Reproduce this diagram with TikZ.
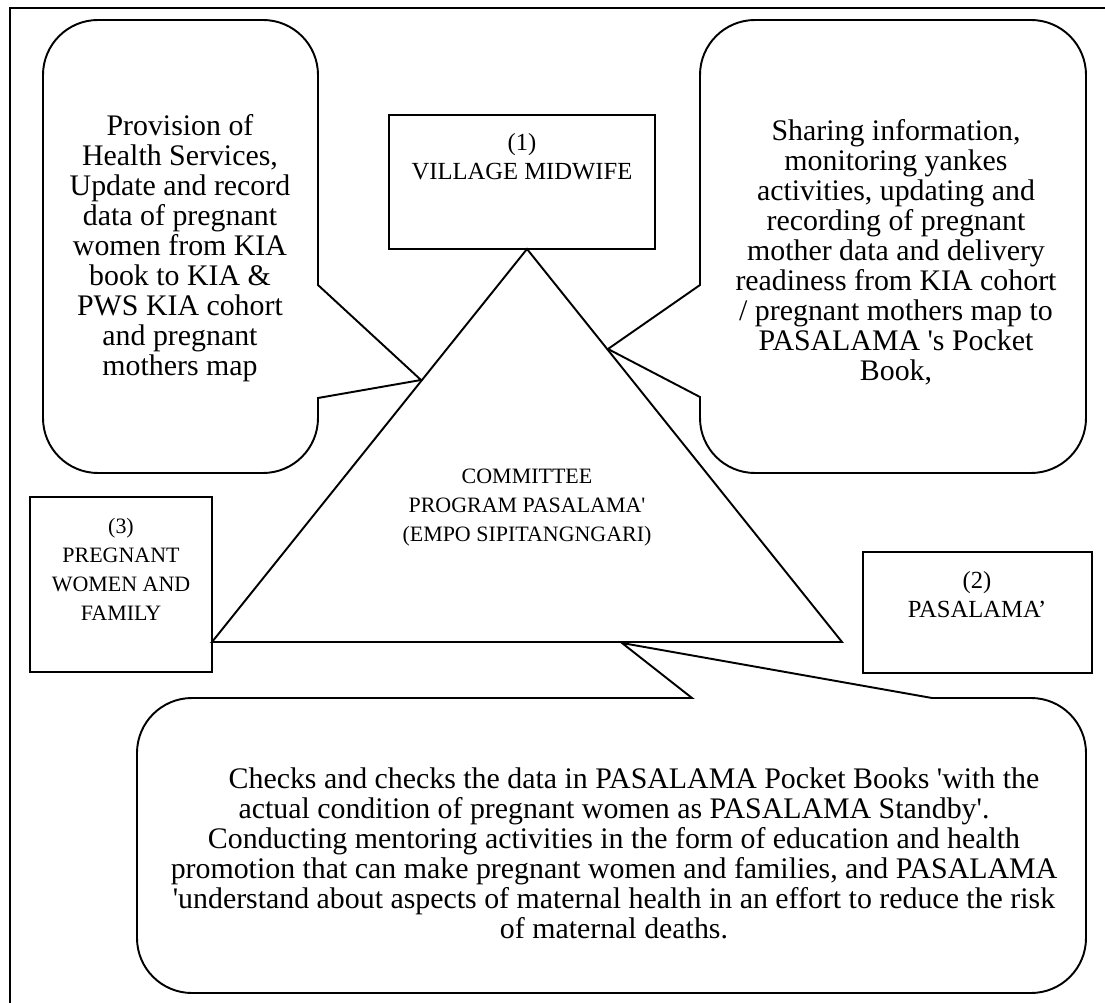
\documentclass[tikz,border=0pt]{standalone}
\usepackage{fontspec}
\setmainfont{Liberation Serif}
\usepackage{tikz}
\usetikzlibrary{calc}

\newcommand{\sqt}{\textquotesingle}

\tikzset{
  bubble/.style={draw, line width=1.1pt},
  rolebox/.style={draw, line width=0.8pt, inner sep=0pt},
  bigtext/.style={align=center, inner sep=0pt, font=\fontsize{17}{17.1}\selectfont},
  smalltext/.style={align=center, inner sep=0pt, font=\fontsize{12.5}{16.5}\selectfont},
  midtext/.style={smalltext, font=\fontsize{14}{16.5}\selectfont},
}

\begin{document}
\begin{tikzpicture}[x=0.02cm, y=-0.02cm]
  \useasboundingbox (0,0) rectangle (1105,1003);

  % cadre
  \draw[line width=1.1pt] (10,1003) -- (10,8) -- (1105,8);

  % les acteurs
  \node[rolebox, minimum width=5.32cm, minimum height=2.68cm] (midwife) at (522,182) {};
  \node[rolebox, minimum width=3.64cm, minimum height=3.5cm] (family) at (121,584.5) {};
  \node[rolebox, minimum width=4.58cm, minimum height=2.42cm] (pasalama) at (977.5,612.5) {};

  \node[midtext] (midwifetxt) at (522,157) {(1)\\VILLAGE MIDWIFE};
  \node[smalltext] (familytxt) at (121,569) {(3)\\PREGNANT\\WOMEN AND\\FAMILY};
  \node[midtext] (pasalamatxt) at (977,595) {(2)\\PASALAMA'};

  % triangle du comite
  \coordinate (apex) at (527,249);
  \coordinate (baseL) at (212,642);
  \coordinate (baseR) at (842,642);
  \draw[bubble] (apex) -- (baseR) -- (baseL) -- cycle;
  \node[smalltext] (committee) at (527,508) {COMMITTEE\\PROGRAM PASALAMA\sqt\\(EMPO SIPITANGNGARI)};

  % bulles
  \draw[bubble] (180,20) [rounded corners=1.1cm] -- (318,20)
    [sharp corners] -- (318,285) -- (421,380) -- (318,398)
    [rounded corners=1.1cm] -- (318,473) -- (43,473) -- (43,20) -- cycle;
  \draw[bubble] (893,20) [rounded corners=1.1cm] -- (1086,20) -- (1086,473) -- (700,473)
    [sharp corners] -- (700,397) -- (608,349) -- (700,285)
    [rounded corners=1.1cm] -- (700,20) -- cycle;
  \draw[bubble] (400,698) [sharp corners] -- (692,698) -- (622,643) -- (932,698)
    [rounded corners=1.1cm] -- (1086,698) -- (1086,993) -- (137,993) -- (137,698) -- cycle;

  \node[bigtext] (servicetxt) at (180,248) {Provision of\\Health Services,\\Update and record\\data of pregnant\\women from KIA\\book to KIA \&\\PWS KIA cohort\\and pregnant\\mothers map};
  \node[bigtext] (sharetxt) at (896,252) {Sharing information,\\monitoring yankes\\activities, updating and\\recording of pregnant\\mother data and delivery\\readiness from KIA cohort\\/ pregnant mothers map to\\PASALAMA \sqt s Pocket\\Book,};
  \node[bigtext] (checktxt) at (614,853) {\hspace*{0.8cm}Checks and checks the data in PASALAMA Pocket Books \sqt with the\\actual condition of pregnant women as PASALAMA Standby\sqt.\\Conducting mentoring activities in the form of education and health\\promotion that can make pregnant women and families, and PASALAMA\\\sqt understand about aspects of maternal health in an effort to reduce the risk\\of maternal deaths.};
\end{tikzpicture}
\end{document}
